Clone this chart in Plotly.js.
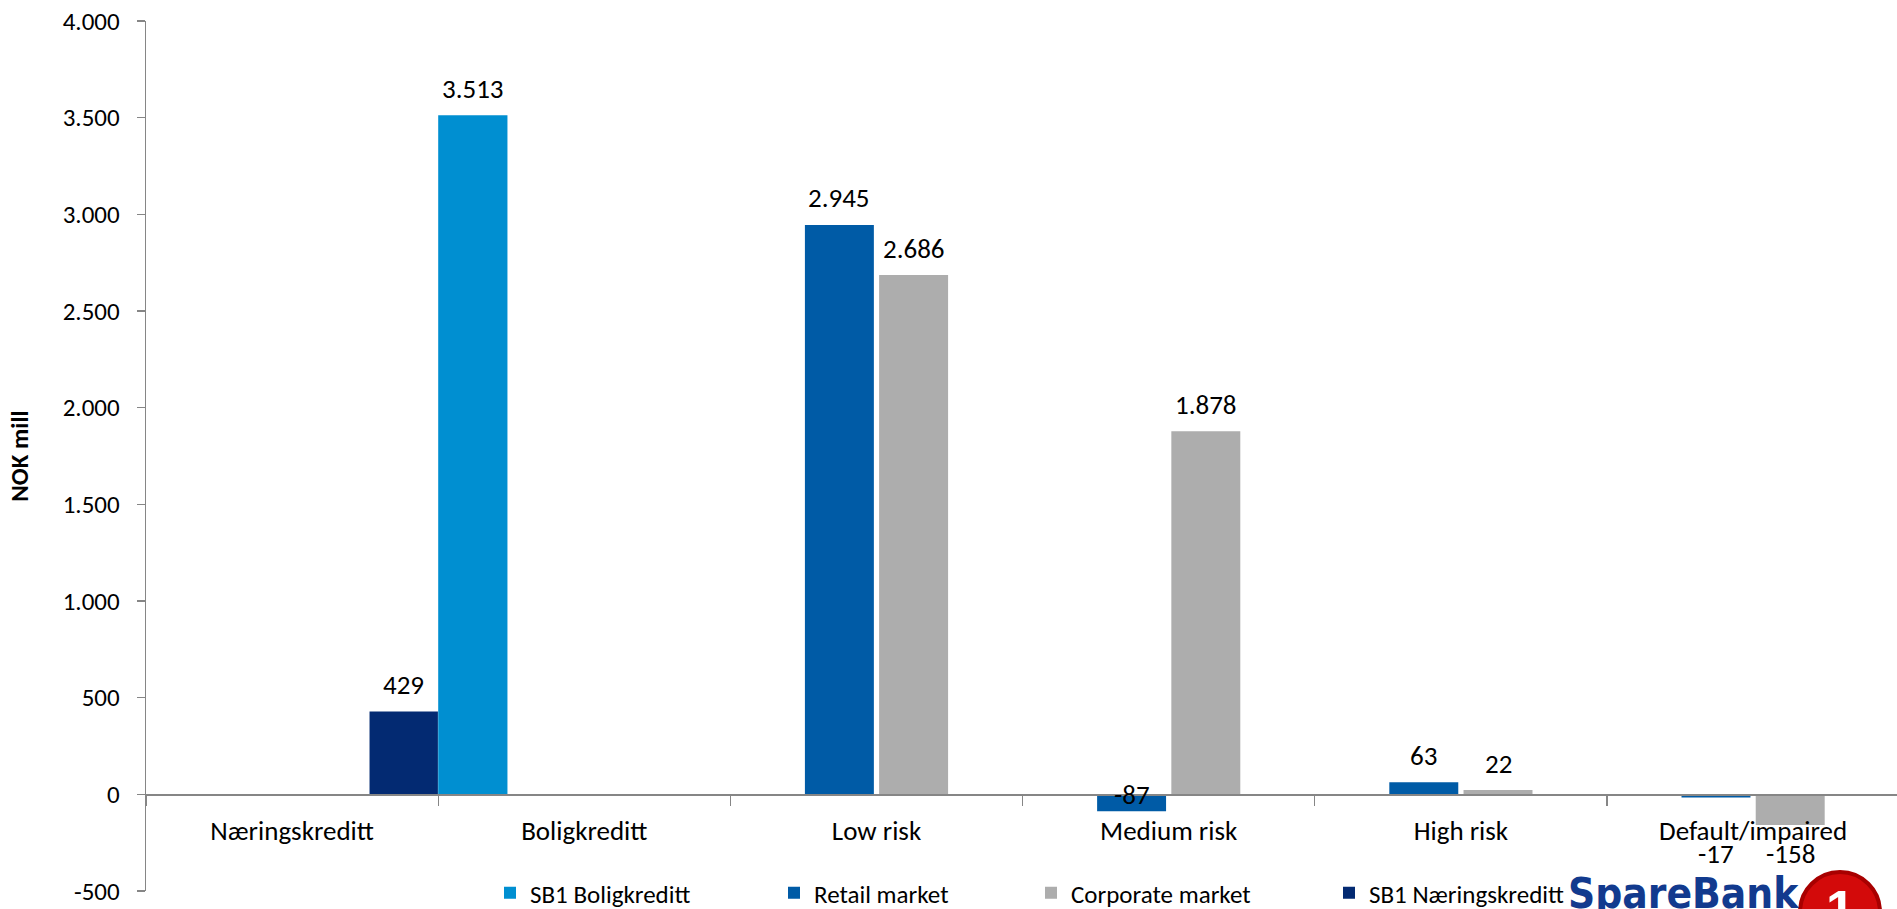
<!DOCTYPE html>
<html>
<head>
<meta charset="utf-8">
<script src="https://cdn.plot.ly/plotly-3.0.1.min.js"></script>
<style>html,body{margin:0;padding:0;background:#fff;}#chart{width:1897px;height:909px;}</style>
</head>
<body>
<div id="chart"></div>
<script>
// ---- data ----
const categories = ['Næringskreditt', 'Boligkreditt', 'Low risk', 'Medium risk', 'High risk', 'Default/impaired'];
const sb1Boligkreditt = [null, 3513, null, null, null, null];
const retailMarket = [null, null, 2945, -87, 63, -17];
const corporateMarket = [null, null, 2686, 1878, 22, -158];
const sb1Naeringskreditt = [429, null, null, null, null, null];
const yTickVals = [-500, 0, 500, 1000, 1500, 2000, 2500, 3000, 3500, 4000];
const yTickText = ['-500', '0', '500', '1.000', '1.500', '2.000', '2.500', '3.000', '3.500', '4.000'];
const seriesNames = ['SB1 Boligkreditt', 'Retail market', 'Corporate market', 'SB1 Næringskreditt'];

// ---- styling ----
const FONT = 'Calibri, Carlito, Lato, sans-serif';
const AX = '#868686';
const W = 1897, H = 909, ML = 146, MR = 0, MT = 21, MB = 18;
const PW = W - ML - MR, PH = H - MT - MB;
const px2x = p => (p - ML) / PW;
const px2y = p => (H - MB - p) / PH;

function fmt(v) {
  const s = Math.abs(v).toString().replace(/\B(?=(\d{3})+(?!\d))/g, '.');
  return (v < 0 ? '-' : '') + s;
}

const specs = [
  {name: seriesNames[0], y: sb1Boligkreditt, color: '#008FD1', offset: -0.5, width: 0.237, legend: 'legend'},
  {name: seriesNames[1], y: retailMarket, color: '#005BA6', offset: -0.245, width: 0.236, legend: 'legend2'},
  {name: seriesNames[2], y: corporateMarket, color: '#ADADAD', offset: 0.009, width: 0.236, legend: 'legend3'},
  {name: seriesNames[3], y: sb1Naeringskreditt, color: '#032A72', offset: 0.265, width: 0.234, legend: 'legend4'}
];

const traces = specs.map(s => ({
  type: 'bar',
  name: s.name,
  x: categories,
  y: s.y,
  offset: s.offset,
  width: s.width,
  marker: {color: s.color},
  legend: s.legend,
  hoverinfo: 'x+y+name'
}));

// data labels
const annotations = [];
specs.forEach(s => {
  s.y.forEach((v, i) => {
    if (v === null) return;
    const xc = i + s.offset + s.width / 2;
    const a = {
      xref: 'x', yref: 'y', x: xc, showarrow: false,
      text: fmt(v), font: {family: FONT, size: 27, color: '#000'},
      xanchor: 'center', yanchor: 'middle'
    };
    if (v >= 0) { a.y = v; a.yshift = 27; }
    else if (i === categories.length - 1) { a.y = 0; a.yshift = -59; }
    else { a.y = 0; a.yshift = 0; }
    annotations.push(a);
  });
});

// logo
annotations.push({
  xref: 'paper', yref: 'paper', x: px2x(1566), y: px2y(867), xanchor: 'left', yanchor: 'top',
  showarrow: false, text: '<b>SpareBank</b>',
  font: {family: '"Liberation Sans Narrow", "DejaVu Sans Condensed", sans-serif', size: 42, color: '#123A8E'}
});
annotations.push({
  xref: 'paper', yref: 'paper', x: px2x(1840), y: px2y(878), xanchor: 'center', yanchor: 'top',
  showarrow: false, text: '<b>1</b>',
  font: {family: '"Liberation Sans", sans-serif', size: 52, color: '#FFFFFF'}
});

const legendBase = {orientation: 'h', yanchor: 'middle', y: px2y(893), xanchor: 'left',
  bgcolor: 'rgba(0,0,0,0)', borderwidth: 0, font: {family: FONT, size: 25, color: '#000'}};
const legendX = [490, 774, 1031, 1329];

const layout = {
  width: W, height: H,
  margin: {l: ML, r: MR, t: MT, b: MB, autoexpand: false},
  paper_bgcolor: '#fff', plot_bgcolor: '#fff',
  font: {family: FONT, size: 24, color: '#000'},
  barmode: 'overlay',
  showlegend: true,
  legend: Object.assign({}, legendBase, {x: px2x(legendX[0])}),
  legend2: Object.assign({}, legendBase, {x: px2x(legendX[1])}),
  legend3: Object.assign({}, legendBase, {x: px2x(legendX[2])}),
  legend4: Object.assign({}, legendBase, {x: px2x(legendX[3])}),
  xaxis: {
    type: 'category', categoryorder: 'array', categoryarray: categories,
    range: [-0.5, -0.5 + PW / 292.2],
    anchor: 'free', position: 500 / 4500,
    showline: true, linecolor: AX, linewidth: 1.3,
    ticks: 'outside', tickson: 'boundaries', ticklen: 10, tickcolor: AX, tickwidth: 1.3,
    showgrid: false, zeroline: false,
    tickfont: {family: FONT, size: 27, color: '#000'},
    ticklabelstandoff: 12,
    automargin: false
  },
  yaxis: {
    range: [-500, 4000],
    tickvals: yTickVals, ticktext: yTickText,
    showline: true, linecolor: AX, linewidth: 1.3,
    ticks: 'outside', ticklen: 8, tickcolor: AX, tickwidth: 1.3,
    showgrid: false, zeroline: false,
    tickfont: {family: FONT, size: 25, color: '#000'},
    ticklabelstandoff: 12,
    automargin: false,
    title: {text: '<b>NOK mill</b>', font: {family: FONT, size: 25, color: '#000'}, standoff: 27}
  },
  shapes: [{
    type: 'circle', xref: 'paper', yref: 'paper',
    x0: px2x(1800), x1: px2x(1880), y0: px2y(952), y1: px2y(872),
    fillcolor: '#D30A0A', line: {color: '#A80000', width: 4}, layer: 'above'
  }],
  annotations: annotations
};

Plotly.newPlot('chart', traces, layout, {displayModeBar: false, staticPlot: true});
</script>
</body>
</html>
